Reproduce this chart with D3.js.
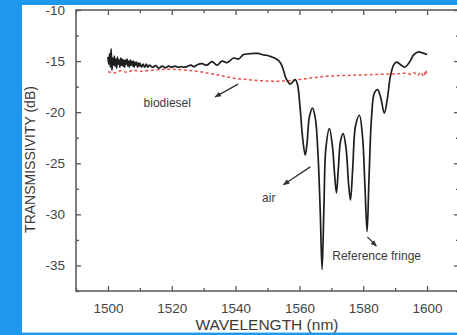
<!DOCTYPE html>
<html>
<head>
<meta charset="utf-8">
<script src="https://cdn.jsdelivr.net/npm/d3@7/dist/d3.min.js"></script>
<style>
  html, body { margin: 0; padding: 0; background: #1d98ec; }
  svg { display: block; }
  text { font-family: Arial, "Liberation Sans", sans-serif; }
</style>
</head>
<body>
<svg id="chart" width="457" height="335"></svg>
<script>
// Transmission spectrum of the fibre sensor in air (solid) and in biodiesel (dashed)
const airWavelength = [
  1500.0, 1500.25, 1500.5, 1500.75, 1501.0, 1501.25, 1501.5, 1501.75, 1502.0, 1502.25,
  1502.5, 1502.75, 1503.0, 1503.25, 1503.5, 1503.75, 1504.0, 1504.25, 1504.5, 1504.75,
  1505.0, 1505.25, 1505.5, 1505.75, 1506.0, 1506.25, 1506.5, 1506.75, 1507.0, 1507.25,
  1507.5, 1507.75, 1508.0, 1508.25, 1508.5, 1508.75, 1509.0, 1509.25, 1509.5, 1509.75,
  1510.0, 1510.5, 1511.0, 1511.5, 1512.0, 1512.5, 1513.0, 1514.0, 1515.0, 1516.0,
  1517.0, 1518.0, 1519.0, 1520.0, 1521.0, 1522.0, 1523.0, 1524.0, 1525.0, 1526.0,
  1527.0, 1528.0, 1529.5, 1531.0, 1532.6, 1534.2, 1535.7, 1537.3, 1539.4, 1540.9,
  1542.5, 1544.0, 1545.6, 1547.0, 1548.8, 1550.0, 1551.4, 1552.5, 1553.5, 1554.3,
  1555.0, 1555.8, 1557.1, 1558.0, 1558.7, 1559.4, 1560.2, 1561.0, 1561.8, 1562.4,
  1563.1, 1564.1, 1565.0, 1565.8, 1566.5, 1567.1, 1567.7, 1568.3, 1569.4, 1570.4,
  1571.0, 1571.6, 1572.2, 1572.9, 1573.7, 1574.6, 1575.4, 1576.0, 1576.7, 1577.6,
  1578.8, 1579.8, 1580.5, 1581.2, 1581.8, 1582.6, 1583.5, 1584.5, 1585.5, 1586.6,
  1587.5, 1588.5, 1589.5, 1590.4, 1591.5, 1593.0, 1594.5, 1595.8, 1597.4, 1598.5,
  1599.5, 1600.0
];
const airTransmission = [
  -14.6, -15.3, -14.3, -15.6, -13.8, -15.9, -14.7, -15.4, -14.5, -15.5,
  -14.8, -15.7, -14.6, -15.3, -14.9, -15.6, -14.7, -15.4, -14.8, -15.5,
  -14.9, -15.6, -14.9, -15.3, -14.8, -15.5, -15.0, -15.6, -14.9, -15.4,
  -15.0, -15.5, -15.0, -15.6, -15.1, -15.4, -15.1, -15.6, -15.2, -15.5,
  -15.2, -15.6, -15.3, -15.6, -15.3, -15.6, -15.4, -15.6, -15.45, -15.7,
  -15.5, -15.65, -15.5, -15.6, -15.5, -15.6, -15.55, -15.6, -15.5, -15.4,
  -15.55, -15.35, -15.25, -15.4, -15.05, -15.4, -15.0, -15.15, -14.7, -14.8,
  -14.35, -14.3, -14.25, -14.25, -14.4, -14.45, -14.6, -14.75, -14.95, -15.3,
  -15.9, -16.7, -17.25, -17.0, -16.8, -17.3, -19.5, -22.5, -24.2, -23.0,
  -20.5, -19.6, -20.6, -24.0, -29.5, -35.4, -29.0, -23.5, -21.6, -23.5,
  -26.0, -27.9, -25.5, -22.8, -22.1, -23.5, -27.0, -28.6, -25.5, -21.3,
  -20.3, -22.5, -27.0, -31.7, -26.5, -20.5, -18.1, -17.8, -18.6, -20.1,
  -18.8, -16.5, -15.4, -15.1, -15.3, -15.6, -15.1, -14.4, -14.1, -14.2,
  -14.3, -14.35
];

const bioWavelength = [
  1500, 1502, 1504, 1506, 1508, 1510, 1515, 1520, 1525, 1530,
  1535, 1540, 1545, 1550, 1555, 1560, 1565, 1570, 1575, 1580,
  1585, 1590, 1594, 1595, 1596, 1597, 1598, 1599, 1599.5, 1600
];
const bioTransmission = [
  -16.05, -16.15, -15.95, -16.1, -15.9, -16.0, -15.85, -15.8, -15.9, -16.1,
  -16.4, -16.7, -16.85, -16.95, -16.95, -16.8, -16.6, -16.45, -16.4, -16.35,
  -16.3, -16.25, -16.2, -16.3, -16.15, -16.4, -16.1, -16.5, -15.9, -16.4
];

const xTicks = [1500, 1520, 1540, 1560, 1580, 1600];
const xMinorTicks = [1490, 1510, 1530, 1550, 1570, 1590, 1610];
const yTicks = [-35, -30, -25, -20, -15, -10];
const yMinorTicks = [-37.5, -32.5, -27.5, -22.5, -17.5, -12.5];

// annotations: label text and arrow (from -> to), in data units
const annoLabels = ["biodiesel", "air", "Reference fringe"];
const annoLabelPos = [[1518.6, -19.45], [1550.4, -28.75], [1570.3, -34.45]];
const annoLabelAnchor = ["middle", "middle", "start"];
const annoArrowFrom = [[1540.8, -17.25], [1563.4, -25.35], [1581.3, -32.2]];
const annoArrowTo = [[1533.6, -18.5], [1555.0, -27.1], [1584.1, -33.1]];

const svg = d3.select("#chart");
const W = 457, H = 335;
const plot = { left: 76, right: 459, top: 10, bottom: 291 };

// white slide panel
svg.append("rect").attr("x", 22).attr("y", 5).attr("width", W - 22).attr("height", 327)
  .attr("fill", "#ffffff");
svg.append("line").attr("x1", 22).attr("x2", W).attr("y1", 332.5).attr("y2", 332.5)
  .attr("stroke", "#9fd6ff").attr("stroke-width", 1);

const x = d3.scaleLinear().domain([1490, 1610]).range([plot.left, plot.right]);
const y = d3.scaleLinear().domain([-37.5, -10]).range([plot.bottom, plot.top]);

const axisColor = "#555";
const plain = d => String(d);
const g = svg.append("g");

function styleAxis(sel) {
  sel.select(".domain").remove();
  sel.selectAll(".tick line").attr("stroke", axisColor).attr("stroke-width", 1.3);
  sel.selectAll(".tick text").attr("fill", "#444").attr("font-size", "13.5px");
}

// major + minor ticks pointing inward on all four sides
g.append("g").attr("transform", `translate(0,${plot.bottom})`)
  .call(d3.axisBottom(x).tickValues(xTicks).tickSize(-5).tickPadding(12).tickFormat(plain))
  .call(styleAxis);
g.append("g").attr("transform", `translate(0,${plot.bottom})`)
  .call(d3.axisBottom(x).tickValues(xMinorTicks).tickSize(-3).tickFormat(""))
  .call(styleAxis);
g.append("g").attr("transform", `translate(0,${plot.top})`)
  .call(d3.axisTop(x).tickValues(xTicks).tickSize(-5).tickFormat(""))
  .call(styleAxis);
g.append("g").attr("transform", `translate(0,${plot.top})`)
  .call(d3.axisTop(x).tickValues(xMinorTicks).tickSize(-3).tickFormat(""))
  .call(styleAxis);
g.append("g").attr("transform", `translate(${plot.left},0)`)
  .call(d3.axisLeft(y).tickValues(yTicks).tickSize(-5).tickPadding(11).tickFormat(plain))
  .call(styleAxis);
g.append("g").attr("transform", `translate(${plot.left},0)`)
  .call(d3.axisLeft(y).tickValues(yMinorTicks).tickSize(-3).tickFormat(""))
  .call(styleAxis);
g.append("g").attr("transform", `translate(${plot.right},0)`)
  .call(d3.axisRight(y).tickValues(yTicks).tickSize(-5).tickFormat(""))
  .call(styleAxis);
g.append("g").attr("transform", `translate(${plot.right},0)`)
  .call(d3.axisRight(y).tickValues(yMinorTicks).tickSize(-3).tickFormat(""))
  .call(styleAxis);

// frame
g.append("rect").attr("x", plot.left).attr("y", plot.top)
  .attr("width", plot.right - plot.left).attr("height", plot.bottom - plot.top)
  .attr("fill", "none").attr("stroke", axisColor).attr("stroke-width", 1.5);

// axis titles
svg.append("text").attr("x", 267).attr("y", 330)
  .attr("text-anchor", "middle").attr("font-size", "15.5px").attr("fill", "#3a3a3a")
  .text("WAVELENGTH (nm)");
svg.append("text")
  .attr("transform", `translate(35,${(87 + 232) / 2}) rotate(-90)`)
  .attr("text-anchor", "middle").attr("font-size", "14px").attr("fill", "#3a3a3a")
  .text("TRANSMISSIVITY (dB)");

// spectra
const airPts = airWavelength.map((w, i) => [w, airTransmission[i]]);
const bioPts = bioWavelength.map((w, i) => [w, bioTransmission[i]]);
const line = d3.line().x(d => x(d[0])).y(d => y(d[1])).curve(d3.curveCatmullRom.alpha(0.5));

svg.append("path").datum(bioPts).attr("d", line)
  .attr("fill", "none").attr("stroke", "#e8403a").attr("stroke-width", 1.5)
  .attr("stroke-dasharray", "3,2.5").attr("opacity", 0.9);

svg.append("path").datum(airPts).attr("d", line)
  .attr("fill", "none").attr("stroke", "#1e1e1e").attr("stroke-width", 1.7)
  .attr("stroke-linejoin", "round");

// annotations
const defs = svg.append("defs");
defs.append("marker").attr("id", "arrowhead").attr("viewBox", "0 0 10 10")
  .attr("refX", 9).attr("refY", 5).attr("markerWidth", 5).attr("markerHeight", 5)
  .attr("orient", "auto")
  .append("path").attr("d", "M0,1 L10,5 L0,9 z").attr("fill", "#333");

annoArrowFrom.forEach((f, i) => {
  svg.append("line")
    .attr("x1", x(f[0])).attr("y1", y(f[1]))
    .attr("x2", x(annoArrowTo[i][0])).attr("y2", y(annoArrowTo[i][1]))
    .attr("stroke", "#333").attr("stroke-width", 1.3)
    .attr("marker-end", "url(#arrowhead)");
});
annoLabels.forEach((t, i) => {
  svg.append("text").attr("x", x(annoLabelPos[i][0])).attr("y", y(annoLabelPos[i][1]))
    .attr("text-anchor", annoLabelAnchor[i]).attr("font-size", "12px").attr("fill", "#3a3a3a")
    .text(t);
});
</script>
</body>
</html>
